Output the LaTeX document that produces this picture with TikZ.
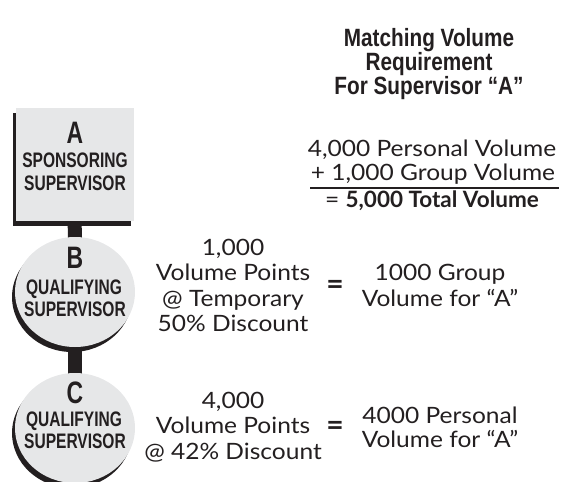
\documentclass[tikz,border=0pt]{standalone}
\usepackage{fontspec}
\setmainfont{Lato}[FakeStretch=1.09, BoldFeatures={FakeStretch=1.0}]
\newfontfamily\labfont[FakeStretch=0.74]{Liberation Sans}
\newfontfamily\hdrfont[FakeStretch=0.83]{Liberation Sans}
\usetikzlibrary{shapes.geometric,shadows,backgrounds}
\definecolor{ink}{HTML}{231F20}
\definecolor{pale}{HTML}{E6E7E8}
\tikzset{
  every node/.style={inner sep=0pt, outer sep=0pt, text=ink},
  dshadow/.style={drop shadow={shadow xshift=-3pt, shadow yshift=-5pt, fill=ink, opacity=1}},
  boxshape/.style={rectangle, fill=pale, minimum width=118pt, minimum height=113pt, dshadow},
  ovalshape/.style={ellipse, fill=pale, minimum width=120pt, minimum height=110pt, dshadow},
  barline/.style={draw=ink, line width=14pt},
  hdtxt/.style={anchor=base, font=\hdrfont\bfseries\fontsize{25}{28}\selectfont},
  bodytxt/.style={anchor=base, font=\fontsize{22.5}{26}\selectfont},
  bigletter/.style={anchor=base, font=\labfont\bfseries\fontsize{31}{34}\selectfont},
  labtxt/.style={anchor=base, font=\labfont\bfseries\fontsize{21}{24}\selectfont},
  eqsign/.style={anchor=center, font=\bfseries\fontsize{30}{32}\selectfont},
}
\begin{document}
\begin{tikzpicture}[x=1pt,y=-1pt]
\useasboundingbox (0,0) rectangle (563,482);
% shapes
\node[boxshape] (A) at (74.5,164.5) {};
\node[ovalshape] (B) at (75,292) {};
\node[ovalshape] (C) at (75,428) {};
\begin{pgfonlayer}{background}
  \draw[barline] (A.center) -- (B.center);
  \draw[barline] (B.center) -- (C.center);
\end{pgfonlayer}
% labels in shapes
\node[bigletter] (a1) at (75,143) {A};
\node[labtxt] (a2) at (75,167) {SPONSORING};
\node[labtxt] (a3) at (75,190) {SUPERVISOR};
\node[bigletter] (b1) at (75,268) {B};
\node[labtxt] (b2) at (74,294) {QUALIFYING};
\node[labtxt] (b3) at (75,316) {SUPERVISOR};
\node[bigletter] (c1) at (75,403) {C};
\node[labtxt] (c2) at (74,426) {QUALIFYING};
\node[labtxt] (c3) at (75,448) {SUPERVISOR};
% header
\node[hdtxt] (h1) at (429,46) {Matching Volume};
\node[hdtxt] (h2) at (429,70) {Requirement};
\node[hdtxt] (h3) at (429,94) {For Supervisor “A”};
% calculation
\node[bodytxt] (k1) at (432,156) {4,000 Personal Volume};
\node[bodytxt] (k2) at (433,180) {+ 1,000 Group Volume};
\node[bodytxt] (k3) at (432,207) {= \textbf{5,000 Total Volume}};
\coordinate (u1) at (310,188);
\coordinate (u2) at (559,188);
\draw[ink, line width=1.8pt] (u1) -- (u2);
% B row
\node[bodytxt] (m1) at (233,255) {1,000};
\node[bodytxt] (m2) at (233,280) {Volume Points};
\node[bodytxt] (m3) at (233,306) {@ Temporary};
\node[bodytxt] (m4) at (233,331) {50\% Discount};
\node[eqsign] (e1) at (335,287) {=};
\node[bodytxt] (r1) at (440,280) {1000 Group};
\node[bodytxt] (r2) at (440,306) {Volume for “A”};
% C row
\node[bodytxt] (n1) at (233,408) {4,000};
\node[bodytxt] (n2) at (233,433) {Volume Points};
\node[bodytxt] (n3) at (233,459) {@ 42\% Discount};
\node[eqsign] (e2) at (335,428) {=};
\node[bodytxt] (s1) at (440,423) {4000 Personal};
\node[bodytxt] (s2) at (440,447) {Volume for “A”};
\end{tikzpicture}
\end{document}
